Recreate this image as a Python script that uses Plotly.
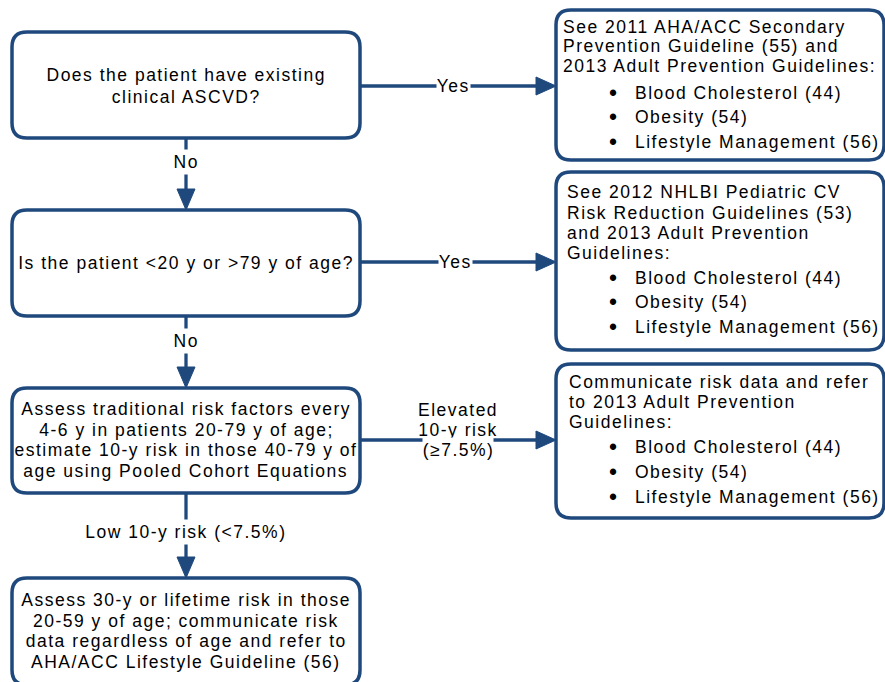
import plotly.graph_objects as go

# ---------------- data (text content) ----------------
left_nodes = [
    ["Does the patient have existing", "clinical ASCVD?"],
    ["Is the patient <20 y or >79 y of age?"],
    ["Assess traditional risk factors every", "4-6 y in patients 20-79 y of age;",
     "estimate 10-y risk in those 40-79 y of", "age using Pooled Cohort Equations"],
    ["Assess 30-y or lifetime risk in those", "20-59 y of age; communicate risk",
     "data regardless of age and refer to", "AHA/ACC Lifestyle Guideline (56)"],
]
right_heads = [
    ["See 2011 AHA/ACC Secondary", "Prevention Guideline (55) and", "2013 Adult Prevention Guidelines:"],
    ["See 2012 NHLBI Pediatric CV", "Risk Reduction Guidelines (53)", "and 2013 Adult Prevention", "Guidelines:"],
    ["Communicate risk data and refer", "to 2013 Adult Prevention", "Guidelines:"],
]
bullets = ["Blood Cholesterol (44)", "Obesity (54)", "Lifestyle Management (56)"]
down_labels = ["No", "No", "Low 10-y risk (<7.5%)"]
right_labels = [["Yes"], ["Yes"], ["Elevated", "10-y risk", "(\u22657.5%)"]]

# ---------------- layout (geometry, screen pixels) ----------------
W, H = 885, 682
COL = "#1F497D"
FONT = "Liberation Sans, Arial, sans-serif"
FS = 17.5

left_boxes = [(12, 32, 360, 138), (12, 210, 360, 316), (12, 388, 360, 493), (12, 578, 360, 685)]
left_line_y = [[75, 97], [263], [409, 430, 450, 471], [600, 621, 641, 662]]
right_boxes = [(556, 10, 884, 160), (556, 172, 884, 350), (556, 364, 884, 518)]
right_head_x = [561, 565, 567]
right_head_y = [[27, 46, 66], [192, 213, 233, 253], [382, 402, 422]]
right_bullet_y = [[93, 117, 142], [278, 302, 327], [447, 472, 497]]
h_arrow_y = [86, 262, 440]
h_label_x = [453, 455, 458]
h_label_y = [[86], [262], [410, 430, 450]]
v_label_y = [162, 341, 532]
cx = 186


def rrect(x0, y0, x1, y1, r=15):
    return (f"M {x0+r},{y0} L {x1-r},{y0} Q {x1},{y0} {x1},{y0+r} "
            f"L {x1},{y1-r} Q {x1},{y1} {x1-r},{y1} L {x0+r},{y1} "
            f"Q {x0},{y1} {x0},{y1-r} L {x0},{y0+r} Q {x0},{y0} {x0+r},{y0} Z")


shapes = []
annotations = []


def txt(x, y, t, xanchor="center", align="center", size=FS, bg=None, pad=1):
    d = dict(x=x, y=y, text=t, showarrow=False, xanchor=xanchor, yanchor="middle", align=align,
             borderpad=pad, font=dict(family=FONT, size=size, color="black"))
    if bg:
        d["bgcolor"] = bg
    annotations.append(d)


for b in left_boxes + right_boxes:
    shapes.append(dict(type="path", path=rrect(*b), line=dict(color=COL, width=3.5),
                       fillcolor="white", layer="above"))

# horizontal arrows
for i, y in enumerate(h_arrow_y):
    x0 = left_boxes[i][2]
    x1 = right_boxes[i][0]
    shapes.append(dict(type="line", x0=x0, y0=y, x1=x1 - 18, y1=y, line=dict(color=COL, width=3.3)))
    shapes.append(dict(type="path", path=f"M {x1-20},{y-9} L {x1},{y} L {x1-20},{y+9} Z",
                       fillcolor=COL, line=dict(color=COL, width=1)))
    for t, ly in zip(right_labels[i], h_label_y[i]):
        txt(h_label_x[i], ly, t, bg="white", pad=2)

# vertical arrows
for i, ly in enumerate(v_label_y):
    y0 = left_boxes[i][3]
    y1 = left_boxes[i + 1][1]
    shapes.append(dict(type="line", x0=cx, y0=y0, x1=cx, y1=y1 - 18, line=dict(color=COL, width=3.3)))
    shapes.append(dict(type="path", path=f"M {cx-9},{y1-21} L {cx},{y1} L {cx+9},{y1-21} Z",
                       fillcolor=COL, line=dict(color=COL, width=1)))
    txt(cx, ly, down_labels[i], bg="white", pad=2)

# left box text
for lines, ys in zip(left_nodes, left_line_y):
    for t, y in zip(lines, ys):
        txt(cx, y, t)

# right box text
for i in range(3):
    for t, y in zip(right_heads[i], right_head_y[i]):
        txt(right_head_x[i], y, t, xanchor="left", align="left")
    for t, y in zip(bullets, right_bullet_y[i]):
        txt(607, y, "\u2022", xanchor="left", align="left", size=23)
        txt(633, y, t, xanchor="left", align="left")

fig = go.Figure()
fig.update_layout(
    width=W, height=H, margin=dict(l=0, r=0, t=0, b=0),
    paper_bgcolor="white", plot_bgcolor="white",
    xaxis=dict(range=[0, W], visible=False, fixedrange=True),
    yaxis=dict(range=[H, 0], visible=False, fixedrange=True),
    shapes=shapes, annotations=annotations, showlegend=False,
)

post = ("var s=document.createElement('style');"
        "s.textContent='html,body{margin:0;padding:0;overflow:hidden}"
        " .annotation-text{letter-spacing:1.5px}';"
        "document.head.appendChild(s);")
fig.write_html("out.html", post_script=post, config={"displayModeBar": False, "staticPlot": True})
